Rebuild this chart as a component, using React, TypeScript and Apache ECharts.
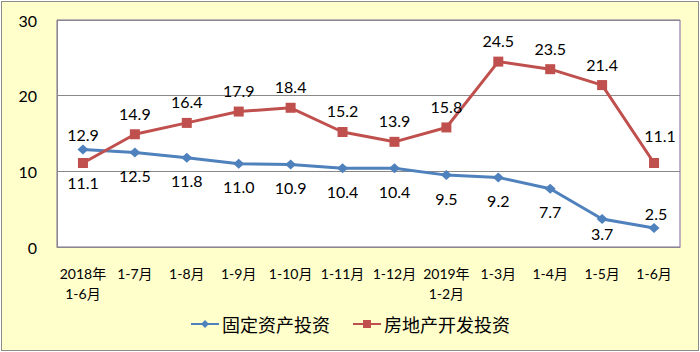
import React, { useEffect, useRef } from "react";
import * as echarts from "echarts";

const categories = [
  "2018年\n1-6月", "1-7月", "1-8月", "1-9月", "1-10月", "1-11月", "1-12月",
  "2019年\n1-2月", "1-3月", "1-4月", "1-5月", "1-6月",
];
const fixedAssetInvestment = [12.9, 12.5, 11.8, 11.0, 10.9, 10.4, 10.4, 9.5, 9.2, 7.7, 3.7, 2.5];
const realEstateInvestment = [11.1, 14.9, 16.4, 17.9, 18.4, 15.2, 13.9, 15.8, 24.5, 23.5, 21.4, 11.1];
const seriesNames = ["固定资产投资", "房地产开发投资"];
const yTicks = [0, 10, 20, 30];

const FONT = "Lato, 'Noto Sans CJK SC', sans-serif";

export default function App() {
  const ref = useRef<HTMLDivElement>(null);

  useEffect(() => {
    if (!ref.current) return;
    const chart = echarts.init(ref.current, undefined, { renderer: "svg" });
    const last = categories.length - 1;

    const blueData = fixedAssetInvestment.map((v, i) => {
      const dy = i === 0 || i === last ? -15 : i === last - 1 ? 14 : 23;
      const dx = i === last ? 2 : 0;
      return { value: v, label: { offset: [dx, dy] } };
    });
    const redData = realEstateInvestment.map((v, i) => {
      const dy = i === 0 ? 19 : i === last ? -28 : -21;
      const dx = i === last ? 6 : 0;
      return { value: v, label: { offset: [dx, dy] } };
    });

    const labelCommon = {
      show: true,
      position: "inside",
      color: "#000",
      fontSize: 16,
      fontFamily: FONT,
      formatter: (p: any) => Number(p.value).toFixed(1),
    };

    chart.setOption({
      animation: false,
      backgroundColor: "transparent",
      textStyle: { fontFamily: FONT },
      grid: {
        left: 57,
        right: 20,
        top: 20,
        bottom: 105,
        show: true,
        backgroundColor: "#ffffff",
        borderColor: "#8064A2",
        borderWidth: 1,
      },
      legend: {
        bottom: 14,
        left: "center",
        itemWidth: 28,
        itemHeight: 10,
        itemGap: 22,
        textStyle: { fontSize: 18, color: "#000", fontFamily: "'Noto Sans CJK SC', sans-serif", padding: [0, 0, 0, -2] },
        data: seriesNames,
      },
      xAxis: {
        type: "category",
        data: categories,
        boundaryGap: true,
        axisLine: { show: true, lineStyle: { color: "#888", width: 1 } },
        axisTick: { show: false },
        axisLabel: {
          interval: 0,
          margin: 16,
          fontSize: 14,
          lineHeight: 20,
          color: "#000",
          fontFamily: FONT,
        },
        splitLine: { show: false },
      },
      yAxis: {
        type: "value",
        min: yTicks[0],
        max: yTicks[yTicks.length - 1],
        interval: 10,
        axisLine: { show: true, lineStyle: { color: "#888", width: 1 } },
        axisTick: { show: false },
        axisLabel: { margin: 20, fontSize: 16, color: "#000", fontFamily: FONT },
        splitLine: { show: true, lineStyle: { color: "#888", width: 1 } },
      },
      series: [
        {
          name: seriesNames[0],
          type: "line",
          data: blueData,
          symbol: "diamond",
          symbolSize: [11, 10],
          lineStyle: { color: "#4F81BD", width: 3 },
          itemStyle: { color: "#4F81BD" },
          label: labelCommon,
          z: 3,
        },
        {
          name: seriesNames[1],
          type: "line",
          data: redData,
          symbol: "rect",
          symbolSize: 10,
          lineStyle: { color: "#C0504D", width: 3 },
          itemStyle: { color: "#C0504D" },
          label: labelCommon,
          z: 4,
        },
      ],
    });
    return () => chart.dispose();
  }, []);

  return (
    <div style={{ position: "absolute", left: 0, top: 0, width: 700, height: 352, background: "#ffffff" }}>
      <div
        style={{
          position: "absolute",
          left: 1,
          top: 1,
          width: 698,
          height: 350,
          boxSizing: "border-box",
          border: "1px solid #8c8c8c",
          background: "#FFFFCC",
        }}
      />
      <div ref={ref} style={{ position: "absolute", left: 0, top: 0, width: 700, height: 352 }} />
    </div>
  );
}
